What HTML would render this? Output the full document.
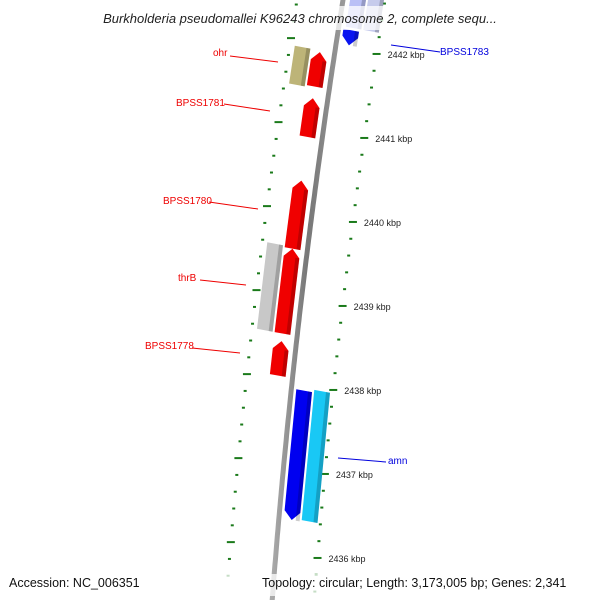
<!DOCTYPE html>
<html><head><meta charset="utf-8"><style>body{margin:0;background:#fff}svg{display:block}</style></head>
<body>
<svg id="c" width="600" height="600" xmlns="http://www.w3.org/2000/svg" font-family="Liberation Sans, sans-serif">
<defs>
<linearGradient id="bbg" x1="0" x2="1"><stop offset="0" stop-color="#aaa"/><stop offset="0.5" stop-color="#777"/><stop offset="1" stop-color="#999"/></linearGradient>
</defs>
<g id="backbone"></g>
<g id="ticks"></g>
<g id="feats"></g>
<g id="labels"></g>
<rect x="60" y="6" width="480" height="24" fill="#fff" opacity="0.75"/>
<text x="300" y="23" text-anchor="middle" font-size="13" font-style="italic" fill="#222">Burkholderia pseudomallei K96243 chromosome 2, complete sequ...</text>
<rect x="0" y="574" width="600" height="22" fill="#fff" opacity="0.75"/>
<text x="9" y="587" font-size="12.5" fill="#111">Accession: NC_006351</text>
<text x="262" y="587" font-size="12.5" fill="#111">Topology: circular; Length: 3,173,005 bp; Genes: 2,341</text>
</svg>
<script>
const kbpTicks=[2442,2441,2440,2439,2438,2437,2436];
const tickLabels=["2442 kbp","2441 kbp","2440 kbp","2439 kbp","2438 kbp","2437 kbp","2436 kbp"];
const featNames=["olive-box","ohr","BPSS1781","BPSS1780","thrB","thrB-partner","BPSS1778","amn-dark","amn","BPSS1782","BPSS1783-top","BPSS1783-top2"];
const featStart=[2441.92,2441.49,2440.89,2439.56,2439.58,2438.55,2438.05,2437.93,2437.96,2442.22,2442.75,2442.75];
const featEnd=[2441.47,2441.90,2441.35,2440.37,2438.55,2439.56,2438.46,2436.39,2436.41,2442.04,2442.25,2442.25];
const featStrand=[0,1,1,1,0,1,1,-1,0,-1,0,0];
const featTrack=[-33,-15,-15,-15,-33,-15,-15,13,31,13,15,33];
const featColor=["#bdb478","#f00000","#f00000","#f00000","#c8c8c8","#f00000","#f00000","#0000f0","#19c8f5","#0a14f0","#8c96f0","#a0a8e0"];
const labelText=["ohr","BPSS1781","BPSS1780","thrB","BPSS1778","BPSS1783","amn"];
const labelX=[213,176,163,178,145,440,388];
const labelY=[56,106,204,281,349,55,464];
const labelColor=["#e00","#e00","#e00","#e00","#e00","#00d","#00d"];
const ns="http://www.w3.org/2000/svg";
function bb(y){return 343-0.16*y+0.00007*y*y;}
function ybase(k){return 46.4+(2442-k)*84;}
function pt(k,off){const y=ybase(k)+off*0.18;return [bb(y)+off,y];}
function mk(tag,attrs,parent){const e=document.createElementNS(ns,tag);for(const a in attrs)e.setAttribute(a,attrs[a]);parent.appendChild(e);return e;}
const B=document.getElementById('backbone'),T=document.getElementById('ticks'),F=document.getElementById('feats'),L=document.getElementById('labels');
let d="";for(let y=-5;y<=605;y+=5){d+=(y===-5?"M":"L")+bb(y).toFixed(1)+","+y;}
const bl=mk('path',{d:d,stroke:'url(#bbg)','stroke-width':5,fill:'none'},B);


// minor/major ticks
for(let k=2442.8;k>=2435.6;k-=0.2){
  const kk=Math.round(k*10)/10;const major=Math.abs(kk-Math.round(kk))<0.01;
  [[-46],[42]].forEach(([off])=>{const p=pt(kk,off);const w=major?8:3;
    const t=mk('line',{x1:p[0]-w/2,y1:p[1],x2:p[0]+w/2,y2:p[1],stroke:'#1a7a1a','stroke-width':2},T);
    
    });
}
kbpTicks.forEach((k,i)=>{const p=pt(k,42);
  const t=mk('text',{x:p[0]+11,y:p[1]+4,'font-size':9,fill:'#222'},T);t.textContent=tickLabels[i];
  
  });
featNames.forEach((n,i)=>{
  const off=featTrack[i],w=16,s=featStart[i],e=featEnd[i],st=featStrand[i];
  const hi=Math.max(s,e),lo=Math.min(s,e);const ah=0.1;
  let pts=[];
  if(st===1){pts=[pt(lo,off-w/2),pt(hi-ah,off-w/2),pt(hi,off),pt(hi-ah,off+w/2),pt(lo,off+w/2)];}
  else if(st===-1){pts=[pt(hi,off-w/2),pt(lo+ah,off-w/2),pt(lo,off),pt(lo+ah,off+w/2),pt(hi,off+w/2)];}
  else{pts=[pt(lo,off-w/2),pt(hi,off-w/2),pt(hi,off+w/2),pt(lo,off+w/2)];}
  const p=mk('polygon',{points:pts.map(q=>q[0].toFixed(1)+","+q[1].toFixed(1)).join(" "),fill:featColor[i],opacity:i>=10?0.6:1},F);
  
  
  const sh=[pt(lo,off+w/2-4),pt(hi-(st===1?ah:0),off+w/2-4),pt(hi-(st===1?ah:0),off+w/2),pt(lo,off+w/2)];
  const s2=mk('polygon',{points:sh.map(q=>q[0].toFixed(1)+","+q[1].toFixed(1)).join(" "),fill:'#000',opacity:0.2},F);
  
  
});
const lineEnds=[[278,62,230,56],[270,111,224,104],[258,209,209,202],[246,285,200,280],[240,353,192,348],[391,45,440,52],[338,458,386,462]];
labelText.forEach((t,i)=>{const le=lineEnds[i];
  const ln=mk('line',{x1:le[0],y1:le[1],x2:le[2],y2:le[3],stroke:labelColor[i],'stroke-width':1},L);
  
  
  const tx=mk('text',{x:labelX[i],y:labelY[i],'font-size':10,fill:labelColor[i]},L);tx.textContent=t;
  
  });
</script>
</body></html>
